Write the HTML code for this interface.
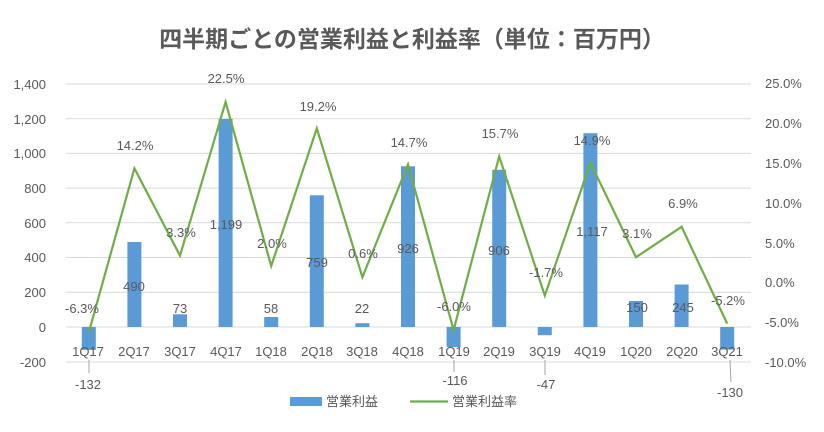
<!DOCTYPE html>
<html><head><meta charset="utf-8"><style>
body{margin:0;background:#fff;}
svg text{font-family:"Liberation Sans","Noto Sans CJK JP",sans-serif;fill:#595959;}
</style></head><body>
<svg width="824" height="427" xmlns="http://www.w3.org/2000/svg">
<text x="412" y="47" text-anchor="middle" font-size="23" font-weight="bold" style="font-family:'Noto Sans CJK JP',sans-serif" fill="#595959">四半期ごとの営業利益と利益率（単位：百万円）</text>
<g stroke="#d9d9d9" stroke-width="1">
<line x1="66" x2="751" y1="84" y2="84"/><line x1="66" x2="751" y1="118.7" y2="118.7"/>
<line x1="66" x2="751" y1="153.4" y2="153.4"/><line x1="66" x2="751" y1="188.1" y2="188.1"/>
<line x1="66" x2="751" y1="222.8" y2="222.8"/><line x1="66" x2="751" y1="257.5" y2="257.5"/>
<line x1="66" x2="751" y1="292.2" y2="292.2"/><line x1="66" x2="751" y1="362" y2="362"/>
<line x1="66" x2="751" y1="327" y2="327"/>
</g>
<g font-size="13" text-anchor="end">
<text x="46" y="89">1,400</text><text x="46" y="124">1,200</text><text x="46" y="158">1,000</text>
<text x="46" y="193">800</text><text x="46" y="228">600</text><text x="46" y="262">400</text>
<text x="46" y="297">200</text><text x="46" y="332">0</text><text x="46" y="367">-200</text>
</g>
<g font-size="13" text-anchor="start">
<text x="765" y="88">25.0%</text><text x="765" y="128">20.0%</text><text x="765" y="168">15.0%</text>
<text x="765" y="208">10.0%</text><text x="765" y="248">5.0%</text><text x="765" y="287">0.0%</text>
<text x="765" y="327">-5.0%</text><text x="765" y="367">-10.0%</text>
</g>
<g fill="#5b9bd5">
<rect x="81.8" y="327" width="14" height="22.9"/>
<rect x="127.4" y="242" width="14" height="85"/>
<rect x="173" y="314.3" width="14" height="12.7"/>
<rect x="218.6" y="119" width="14" height="208"/>
<rect x="264.2" y="317" width="14" height="10"/>
<rect x="309.8" y="195.3" width="14" height="131.7"/>
<rect x="355.4" y="323.2" width="14" height="3.8"/>
<rect x="401" y="166.3" width="14" height="160.7"/>
<rect x="446.6" y="327" width="14" height="20.1"/>
<rect x="492.2" y="169.8" width="14" height="157.2"/>
<rect x="537.8" y="327" width="14" height="8.2"/>
<rect x="583.4" y="133.2" width="14" height="193.8"/>
<rect x="629" y="301" width="14" height="26"/>
<rect x="674.6" y="284.5" width="14" height="42.5"/>
<rect x="720.2" y="327" width="14" height="22.6"/>
</g>
<polyline fill="none" stroke="#70ad47" stroke-width="2.2" stroke-linejoin="miter" points="88.8,332.4 134.4,168.4 180,255.6 225.6,102 271.2,266 316.8,128.4 362.4,277.2 408,164.4 453.6,330 499.2,156.4 544.8,295.6 590.4,162.8 636,257.2 681.6,226.8 727.2,323.6"/>
<g font-size="13" text-anchor="middle">
<text x="88" y="356">1Q17</text><text x="134" y="356">2Q17</text><text x="180" y="356">3Q17</text>
<text x="226" y="356">4Q17</text><text x="271" y="356">1Q18</text><text x="317" y="356">2Q18</text>
<text x="362" y="356">3Q18</text><text x="408" y="356">4Q18</text><text x="454" y="356">1Q19</text>
<text x="499" y="356">2Q19</text><text x="545" y="356">3Q19</text><text x="590" y="356">4Q19</text>
<text x="636" y="356">1Q20</text><text x="682" y="356">2Q20</text><text x="727" y="356">3Q21</text>
</g>
<g stroke="#a6a6a6" stroke-width="1">
<line x1="89" y1="360" x2="89" y2="373"/>
<line x1="454" y1="360" x2="454" y2="372"/>
<line x1="545" y1="360" x2="545" y2="375"/>
<line x1="730" y1="360" x2="731" y2="382"/>
</g>
<g font-size="13" text-anchor="middle">
<text x="88" y="389">-132</text><text x="134" y="291">490</text><text x="180" y="313">73</text>
<text x="226" y="229">1,199</text><text x="271" y="313">58</text><text x="317" y="267">759</text>
<text x="362" y="313">22</text><text x="408" y="253">926</text><text x="455" y="385">-116</text>
<text x="499" y="255">906</text><text x="546" y="389">-47</text><text x="592" y="236">1,117</text>
<text x="637" y="312">150</text><text x="683" y="312">245</text><text x="730" y="397">-130</text>
</g>
<g font-size="13" text-anchor="middle">
<text x="82" y="313">-6.3%</text><text x="135" y="150">14.2%</text><text x="181" y="237">3.3%</text>
<text x="226" y="83">22.5%</text><text x="272" y="248">2.0%</text><text x="318" y="111">19.2%</text>
<text x="363" y="258">0.6%</text><text x="409" y="147">14.7%</text><text x="454" y="311">-6.0%</text>
<text x="500" y="138">15.7%</text><text x="546" y="277">-1.7%</text><text x="592" y="145">14.9%</text>
<text x="637" y="238">3.1%</text><text x="683" y="208">6.9%</text><text x="728" y="305">-5.2%</text>
</g>
<rect x="290" y="397" width="32" height="9" fill="#5b9bd5"/>
<text x="326" y="406" font-size="13">営業利益</text>
<line x1="410" y1="401.5" x2="448" y2="401.5" stroke="#70ad47" stroke-width="2.2"/>
<text x="452" y="406" font-size="13">営業利益率</text>
</svg>
</body></html>
